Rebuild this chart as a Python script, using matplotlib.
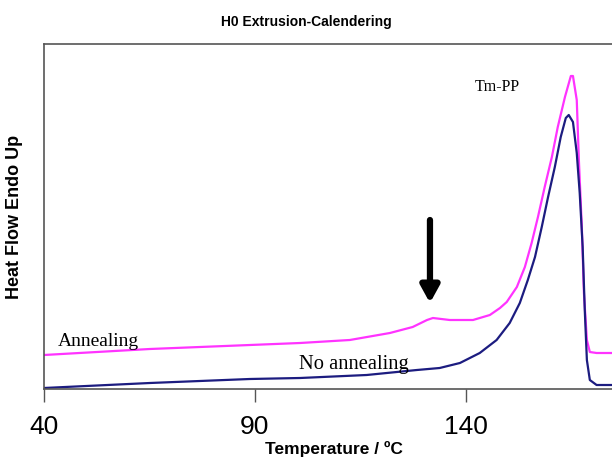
import matplotlib
matplotlib.use("Agg")
import matplotlib.pyplot as plt

# Temperature (°C) and heat flow (arbitrary units, endo up)
temp_anneal = [40.0, 65.1, 100.7, 112.5, 122.0, 127.4, 130.8, 132.2, 136.2, 141.7,
               145.7, 148.1, 149.7, 152.1, 154.0, 155.6, 157.1, 158.7, 160.4, 161.8,
               163.5, 164.9, 165.4, 166.3, 166.8, 167.5, 168.0, 168.7, 169.4, 171.0,
               177.5]
hf_anneal = [34, 40, 46, 49, 56, 62, 69, 71, 69, 69,
             74, 81, 87, 102, 122, 146, 172, 202, 232, 262,
             292, 313, 313, 289, 229, 162, 96, 49, 37, 36,
             36]

temp_noanneal = [40.0, 65.1, 88.8, 100.7, 116.5, 128.4, 133.8, 138.6, 143.3, 147.3,
                 150.4, 152.8, 154.7, 156.4, 158.0, 159.5, 161.1, 162.5, 163.7, 164.4,
                 165.4, 166.3, 167.0, 167.7, 168.2, 168.7, 169.4, 171.0, 177.5]
hf_noanneal = [1, 6, 10, 11, 14, 19, 21, 26, 36, 49,
               66, 86, 109, 132, 162, 192, 222, 252, 271, 274,
               267, 236, 196, 142, 79, 29, 9, 4, 4]

xticks = [40, 90, 140]

fig = plt.figure(figsize=(6.12, 4.59), dpi=100)
W, H = 612, 459
left, right, top, bottom = 44, 624, 44, 389
ax = fig.add_axes([left / W, 1 - bottom / H, (right - left) / W, (bottom - top) / H])

ax.plot(temp_anneal, hf_anneal, color="#ff33ff", lw=1.6)
ax.plot(temp_noanneal, hf_noanneal, color="#1c1c80", lw=1.6)

ax.set_xlim(40, 177.5)
ax.set_ylim(0, 345)
ax.set_xticks(xticks)
ax.set_xticklabels([str(t) for t in xticks], fontsize=19, family="Liberation Sans")
ax.set_yticks([])
ax.tick_params(axis="x", direction="out", length=9, width=1, color="#555555", pad=10)
for s in ["left", "bottom", "top", "right"]:
    ax.spines[s].set_color("#555555")
    ax.spines[s].set_linewidth(1.2)

ax.set_xlabel("Temperature / ºC", fontsize=12.5, fontweight="bold",
              family="Liberation Sans", labelpad=1)
fig.text(15 / W, 1 - 217 / H, "Heat Flow Endo Up", rotation=90, fontsize=13,
         fontweight="bold", family="Liberation Sans", ha="center", va="center")
fig.text(306 / W, 1 - 22 / H, "H0 Extrusion-Calendering", fontsize=10,
         fontweight="bold", family="Liberation Sans", ha="center", va="center")

ax.text(43.3, 48, "Annealing", fontsize=14, family="Liberation Serif", va="center")
ax.text(100.5, 24, "No annealing", fontsize=14.8, family="Liberation Serif", va="center")
ax.text(142.1, 302, "Tm-PP", fontsize=11.5, family="Liberation Serif", va="center")

ax.annotate("", xy=(131.5, 86), xytext=(131.5, 169),
            arrowprops=dict(arrowstyle="-|>,head_width=0.55,head_length=1.0",
                            color="black", lw=4.5, shrinkA=0, shrinkB=0))

fig.savefig("out.png", dpi=100)
